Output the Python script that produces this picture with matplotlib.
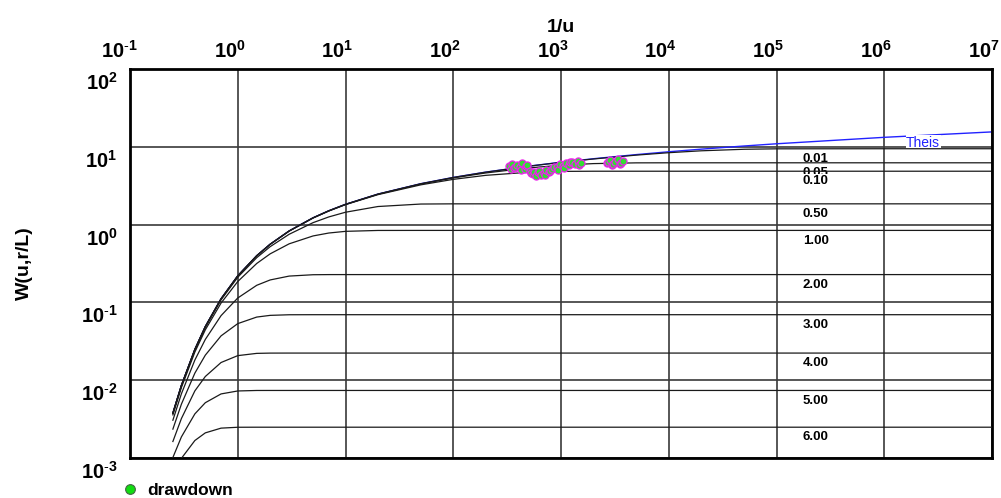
import matplotlib
matplotlib.use('Agg')
import matplotlib.pyplot as plt
from matplotlib.lines import Line2D
from matplotlib.transforms import ScaledTranslation

plt.rcParams['font.family'] = 'Liberation Sans'
plt.rcParams['mathtext.fontset'] = 'custom'
plt.rcParams['mathtext.rm'] = 'Liberation Sans'
plt.rcParams['mathtext.bf'] = 'Liberation Sans:bold'
plt.rcParams['mathtext.default'] = 'bf'

# 1/u values the type curves are tabulated at
inv_u = [0.25, 0.3, 0.4, 0.5, 0.7, 1, 1.5, 2, 3, 5, 7, 10, 20, 50, 100, 200,
         500, 1e3, 2e3, 5e3, 1e4, 2e4, 5e4, 1e5, 1e6, 1e7]

# Theis well function W(u)
theis = [0.003779, 0.008574, 0.02492, 0.04890, 0.1113, 0.2194, 0.3983, 0.5598,
         0.8289, 1.2227, 1.5066, 1.8229, 2.4679, 3.3547, 4.0379, 4.7261, 5.6394,
         6.3315, 7.0242, 7.9402, 8.6332, 9.3263, 10.2426, 10.9357, 13.2383, 15.5409]

# leaky aquifer curves W(u, r/L), one list per r/L
w_001 = [0.003779, 0.008574, 0.02492, 0.04890, 0.1113, 0.2194, 0.3983, 0.5598,
         0.8289, 1.2227, 1.5066, 1.8229, 2.4676, 3.3535, 4.0355, 4.7212, 5.6271,
         6.3069, 6.9750, 7.8191, 8.3982, 8.8827, 9.2961, 9.4176, 9.4425, 9.4425]
w_005 = [0.003779, 0.008574, 0.02492, 0.04890, 0.1113, 0.2193, 0.3981, 0.5594,
         0.8281, 1.2209, 1.5038, 1.8184, 2.4576, 3.3265, 3.9795, 4.6085, 5.3538,
         5.7966, 6.0821, 6.2174, 6.2282, 6.2285, 6.2285, 6.2285, 6.2285, 6.2285]
w_010 = [0.003777, 0.008569, 0.02490, 0.04885, 0.1112, 0.2190, 0.3974, 0.5582,
         0.8256, 1.2155, 1.4952, 1.8050, 2.4271, 3.2442, 3.8150, 4.2959, 4.7079,
         4.8292, 4.8530, 4.8541, 4.8541, 4.8541, 4.8541, 4.8541, 4.8541, 4.8541]
w_050 = [0.003729, 0.008441, 0.02443, 0.04774, 0.10783, 0.21031, 0.37576, 0.52062,
         0.75110, 1.0592, 1.2551, 1.4422, 1.7075, 1.8378, 1.8485, 1.8488, 1.8488,
         1.8488, 1.8488, 1.8488, 1.8488, 1.8488, 1.8488, 1.8488, 1.8488, 1.8488]
w_100 = [0.003584, 0.008059, 0.02302, 0.04443, 0.09809, 0.18547, 0.31644, 0.4210,
         0.5661, 0.7148, 0.7795, 0.8190, 0.8409, 0.8420, 0.8420, 0.8420, 0.8420,
         0.8420, 0.8420, 0.8420, 0.8420, 0.8420, 0.8420, 0.8420, 0.8420, 0.8420]
w_200 = [0.003059, 0.006695, 0.01818, 0.03343, 0.06759, 0.1139, 0.1659, 0.1944,
         0.2179, 0.2268, 0.2277, 0.2278, 0.2278, 0.2278, 0.2278, 0.2278, 0.2278,
         0.2278, 0.2278, 0.2278, 0.2278, 0.2278, 0.2278, 0.2278, 0.2278, 0.2278]
w_300 = [0.002351, 0.004924, 0.012336, 0.02098, 0.03714, 0.05337, 0.06479, 0.06814,
         0.06937, 0.06949, 0.06949, 0.06949, 0.06949, 0.06949, 0.06949, 0.06949,
         0.06949, 0.06949, 0.06949, 0.06949, 0.06949, 0.06949, 0.06949, 0.06949,
         0.06949, 0.06949]
w_400 = [0.001629, 0.003215, 0.00729, 0.01116, 0.01688, 0.02069, 0.02212, 0.02230,
         0.02232, 0.02232, 0.02232, 0.02232, 0.02232, 0.02232, 0.02232, 0.02232,
         0.02232, 0.02232, 0.02232, 0.02232, 0.02232, 0.02232, 0.02232, 0.02232,
         0.02232, 0.02232]
w_500 = [0.001015, 0.001868, 0.003691, 0.005137, 0.006662, 0.007271, 0.007378,
         0.007382, 0.007382, 0.007382, 0.007382, 0.007382, 0.007382, 0.007382,
         0.007382, 0.007382, 0.007382, 0.007382, 0.007382, 0.007382, 0.007382,
         0.007382, 0.007382, 0.007382, 0.007382, 0.007382]
w_600 = [0.000588, 0.00099, 0.001678, 0.002104, 0.00242, 0.002484, 0.002488,
         0.002488, 0.002488, 0.002488, 0.002488, 0.002488, 0.002488, 0.002488,
         0.002488, 0.002488, 0.002488, 0.002488, 0.002488, 0.002488, 0.002488,
         0.002488, 0.002488, 0.002488, 0.002488, 0.002488]

curve_labels = ['0.01', '0.05', '0.10', '0.50', '1.00', '2.00', '3.00', '4.00',
                '5.00', '6.00']
curves = [w_001, w_005, w_010, w_050, w_100, w_200, w_300, w_400, w_500, w_600]

# measured drawdown, shifted onto the type curves
obs_inv_u = [328, 340, 350, 365, 378, 389, 415, 425, 433, 462, 470, 482,
             513, 530, 547, 565, 583, 609, 630, 649, 692, 705, 723, 770, 795,
             822, 857,
             914, 945, 975, 1039, 1070, 1108, 1182, 1220, 1259, 1343, 1432,
             1480, 1526,
             2660, 2750, 2836, 2958, 3050, 3156, 3365, 3510, 3620, 3743]
obs_w = [5.60, 5.20, 5.94, 5.28, 5.50, 5.77, 5.44, 5.05, 6.11, 5.13, 5.60, 5.77,
         4.83, 4.60, 4.42, 4.75, 4.17, 4.69, 4.90, 4.30, 4.56, 4.30, 4.98, 4.69,
         4.95, 5.13, 5.44,
         5.44, 5.10, 5.94, 5.60, 5.30, 6.11, 5.77, 6.40, 6.30, 5.94, 6.49,
         5.85, 6.11,
         6.11, 6.45, 6.68, 5.77, 6.05, 6.30, 6.88, 5.94, 6.20, 6.49]

decades_x = list(range(-1, 8))
decades_y = list(range(-3, 3))


def power_label(k):
    # short hyphen for negative exponents
    if k < 0:
        return r'$10^{\text{-}%d}$' % (-k)
    return r'$10^{%d}$' % k


fig = plt.figure(figsize=(10.01, 4.98), dpi=100)
ax = fig.add_axes([130 / 1001, 1 - 458 / 498, 862 / 1001, 389 / 498])
ax.set_xscale('log')
ax.set_yscale('log')
ax.set_xlim(1e-1, 1e7)
ax.set_ylim(1e-3, 1e2)

ax.set_xticks([10.0 ** k for k in decades_x])
ax.set_xticklabels([power_label(k) for k in decades_x])
ax.set_yticks([10.0 ** k for k in decades_y])
ax.set_yticklabels([power_label(k) for k in decades_y])
ax.minorticks_off()
ax.tick_params(axis='x', top=True, bottom=False, labeltop=True,
               labelbottom=False, length=0, pad=5.5, labelsize=14.5)
ax.tick_params(axis='y', length=0, pad=9, labelsize=14.5)
for lab in ax.get_xticklabels():
    lab.set_ha('right')
    lab.set_transform(lab.get_transform() +
                      ScaledTranslation(0.08, 0, fig.dpi_scale_trans))
for lab in ax.get_yticklabels():
    lab.set_va('top')
    lab.set_transform(lab.get_transform() +
                      ScaledTranslation(0, -0.03, fig.dpi_scale_trans))

ax.grid(True, which='major', color='#3a3a3a', lw=1.2, zorder=1)
ax.set_axisbelow(True)
for sp in ax.spines.values():
    sp.set_linewidth(2)
    sp.set_color('black')
    sp.set_zorder(10)

ax.xaxis.set_label_position('top')
ax.set_xlabel('1/u', fontsize=14, fontweight='bold')
ax.xaxis.set_label_coords(0.5, 1.095)
ax.set_ylabel('W(u,r/L)', fontsize=14, fontweight='bold')
ax.yaxis.set_label_coords(-0.1125, 0.5)

# Theis curve underneath the leaky curves
ax.plot(inv_u, theis, color='#2222ff', lw=1.0, zorder=2)
ax.annotate('Theis', xy=(1.6e6, 11.2), color='#2222ff', fontsize=10,
            va='center', ha='left', zorder=3,
            bbox=dict(boxstyle='square,pad=0.05', fc='white', ec='none'))

z = 4
for name, w in zip(curve_labels, curves):
    ax.plot(inv_u, w, color='#1a1a1a', lw=0.9, zorder=z)
    ax.annotate(name, xy=(1.75e5, w[-1]), xytext=(0, -3),
                textcoords='offset points', fontsize=9.5, fontweight='bold',
                va='top', ha='left', zorder=z + 1,
                bbox=dict(boxstyle='square,pad=0.1', fc='white', ec='none'))
    z += 2

ax.scatter(obs_inv_u, obs_w, s=26, facecolor='#33dd33', edgecolor='#ee22ee',
           lw=0.9, zorder=40)

handle = Line2D([], [], ls='none', marker='o', markersize=7,
                markerfacecolor='#11dd11', markeredgecolor='#446644',
                markeredgewidth=0.8)
ax.legend([handle], ['drawdown'], loc='center left',
          bbox_to_anchor=(-0.0101, -0.0823), frameon=False, handlelength=1,
          handletextpad=0.5, borderaxespad=0, borderpad=0,
          prop={'weight': 'bold', 'size': 12.5})

fig.savefig('out.png', dpi=100)
